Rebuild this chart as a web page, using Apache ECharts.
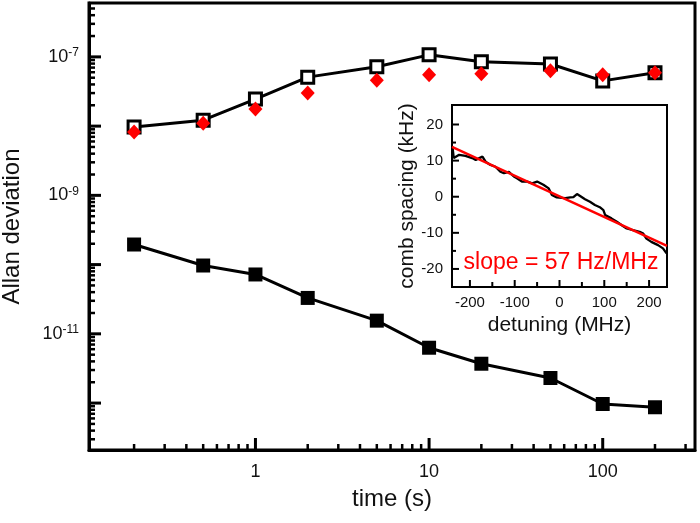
<!DOCTYPE html>
<html>
<head>
<meta charset="utf-8">
<script src="https://cdn.jsdelivr.net/npm/echarts@6/dist/echarts.min.js"></script>
<style>html,body{margin:0;padding:0;background:#fff;}#chart{width:700px;height:523px;}</style>
</head>
<body>
<div id="chart"></div>
<script>
// ---- main chart data ----
const timeS = [0.2, 0.5, 1, 2, 5, 10, 20, 50, 100, 200];
const openSquare = [9.7e-9, 1.22e-8, 2.46e-8, 5.1e-8, 7.2e-8, 1.07e-7, 8.5e-8, 7.9e-8, 4.5e-8, 5.9e-8];
const redDiamond = [8.2e-9, 1.1e-8, 1.76e-8, 3.0e-8, 4.6e-8, 5.5e-8, 5.7e-8, 6.3e-8, 5.5e-8, 5.9e-8];
const filledSquare = [1.95e-10, 9.7e-11, 7.2e-11, 3.3e-11, 1.55e-11, 6.3e-12, 3.7e-12, 2.3e-12, 9.7e-13, 8.7e-13];

// ---- inset data ----
const detuning = [-239, -236, -224, -210, -195, -187, -172, -165, -154, -143, -132, -124, -113, -102, -95, -84, -72, -61, -50, -36, -24, -17, -6, 5, 13, 24, 31, 39, 46, 57, 68, 79, 90, 98, 102, 116, 128, 139, 150, 164, 179, 187, 194, 205, 220, 231, 239];
const combSpacing = [13.9, 10.7, 11.6, 11.3, 10.7, 10.2, 11.1, 9.7, 8.8, 8.3, 6.9, 6.5, 6.9, 5.6, 5.1, 4.2, 4.2, 3.7, 4.2, 3.3, 2.3, 0.5, -0.2, -0.3, -0.4, -0.2, -0.1, 0.75, 0.2, -0.7, -1.4, -2.3, -2.9, -3.7, -5.1, -6.0, -6.9, -7.9, -8.8, -9.25, -9.7, -10.2, -11.6, -12.5, -13.4, -14.3, -15.7];
const fitDetuning = [-240, 240];
const fitSpacing = [13.78, -13.58];

// ---- axis ranges & ticks ----
const xRange = [0.11, 340];
const yRange = [2.1e-13, 6e-7];
const insetXRange = [-240, 240];
const insetYRange = [-25, 25.4];
const xMajorTicks = [1, 10, 100];
const xMinorTicks = [0.2,0.3,0.4,0.5,0.6,0.7,0.8,0.9, 2,3,4,5,6,7,8,9, 20,30,40,50,60,70,80,90, 200,300];
const yMajorTicks = [1e-12, 1e-11, 1e-10, 1e-9, 1e-8, 1e-7];
const yMinorTicks = [3e-13,4e-13,5e-13,6e-13,7e-13,8e-13,9e-13,
  2e-12,3e-12,4e-12,5e-12,6e-12,7e-12,8e-12,9e-12,
  2e-11,3e-11,4e-11,5e-11,6e-11,7e-11,8e-11,9e-11,
  2e-10,3e-10,4e-10,5e-10,6e-10,7e-10,8e-10,9e-10,
  2e-9,3e-9,4e-9,5e-9,6e-9,7e-9,8e-9,9e-9,
  2e-8,3e-8,4e-8,5e-8,6e-8,7e-8,8e-8,9e-8,
  2e-7,3e-7,4e-7,5e-7];
const insetXMajorTicks = [-200, -100, 0, 100, 200];
const insetXMinorTicks = [-150, -50, 50, 150];
const insetYMajorTicks = [-20, -10, 0, 10, 20];
const insetYMinorTicks = [-15, -5, 5, 15];

const FONT = 'Liberation Sans, Arial, sans-serif';

function zip(a, b) { return a.map((v, i) => [v, b[i]]); }

function tickSeries(xi, yi, values, isX, anchor, len, width) {
  return {
    type: 'custom', xAxisIndex: xi, yAxisIndex: yi, silent: true, clip: false, z: 5,
    data: values.map(v => isX ? [v, anchor] : [anchor, v]),
    renderItem: function (params, api) {
      const p = api.coord([api.value(0), api.value(1)]);
      const shape = isX ? { x1: p[0], y1: p[1], x2: p[0], y2: p[1] - len }
                        : { x1: p[0], y1: p[1], x2: p[0] + len, y2: p[1] };
      return { type: 'line', shape: shape, style: { stroke: '#000', lineWidth: width } };
    }
  };
}

const chart = echarts.init(document.getElementById('chart'), null, { renderer: 'canvas' });

const option = {
  animation: false,
  backgroundColor: '#fff',
  textStyle: { fontFamily: FONT },
  grid: [
    { left: 89, top: 3, right: 5, bottom: 73, show: true, borderColor: '#000', borderWidth: 3, backgroundColor: 'transparent', containLabel: false, outerBoundsMode: 'none' },
    { left: 452, top: 105, width: 215, height: 182, show: true, borderColor: '#000', borderWidth: 2, backgroundColor: '#fff', containLabel: false, outerBoundsMode: 'none' }
  ],
  xAxis: [
    {
      type: 'log', gridIndex: 0, min: xRange[0], max: xRange[1], logBase: 10,
      name: 'time (s)', nameLocation: 'middle', nameGap: 37,
      nameTextStyle: { fontSize: 24, color: '#111', fontFamily: FONT },
      axisLine: { show: true, onZero: false, lineStyle: { color: '#000', width: 3 } },
      axisTick: { show: false }, splitLine: { show: false },
      axisLabel: {
        fontSize: 18, color: '#111', margin: 13, fontFamily: FONT,
        showMinLabel: false, showMaxLabel: false,
        formatter: function (v) {
          const e = Math.log10(v);
          if (Math.abs(e - Math.round(e)) > 1e-6) return '';
          return String(Math.round(v));
        }
      }
    },
    {
      type: 'value', gridIndex: 1, min: insetXRange[0], max: insetXRange[1], splitNumber: 5,
      name: 'detuning (MHz)', nameLocation: 'middle', nameGap: 28,
      nameTextStyle: { fontSize: 21, color: '#111', fontFamily: FONT },
      axisLine: { show: true, onZero: false, lineStyle: { color: '#000', width: 2 } },
      axisTick: { show: false }, splitLine: { show: false },
      axisLabel: {
        fontSize: 15, color: '#111', margin: 8, fontFamily: FONT,
        showMinLabel: false, showMaxLabel: false,
        formatter: function (v) { return (v % 100 === 0) ? String(v) : ''; }
      }
    }
  ],
  yAxis: [
    {
      type: 'log', gridIndex: 0, min: yRange[0], max: yRange[1], logBase: 10,
      name: 'Allan deviation', nameLocation: 'middle', nameGap: 65,
      nameTextStyle: { fontSize: 24, color: '#111', fontFamily: FONT },
      axisLine: { show: true, onZero: false, lineStyle: { color: '#000', width: 3 } },
      axisTick: { show: false }, splitLine: { show: false },
      axisLabel: {
        fontSize: 18, color: '#111', margin: 10, fontFamily: FONT,
        showMinLabel: false, showMaxLabel: false,
        formatter: function (v) {
          const l = Math.log10(v);
          const e = Math.round(l);
          if (Math.abs(l - e) > 1e-6) return '';
          if (Math.abs(e % 2) !== 1) return '';
          return '{b|10}{s|' + e + '}';
        },
        rich: {
          b: { fontSize: 18, lineHeight: 20, color: '#111', fontFamily: FONT },
          s: { fontSize: 12, lineHeight: 10, verticalAlign: 'top', color: '#111', fontFamily: FONT }
        }
      }
    },
    {
      type: 'value', gridIndex: 1, min: insetYRange[0], max: insetYRange[1], splitNumber: 5,
      name: 'comb spacing (kHz)', nameLocation: 'middle', nameGap: 34,
      nameTextStyle: { fontSize: 21, color: '#111', fontFamily: FONT },
      axisLine: { show: true, onZero: false, lineStyle: { color: '#000', width: 2 } },
      axisTick: { show: false }, splitLine: { show: false },
      axisLabel: {
        fontSize: 15, color: '#111', margin: 9, fontFamily: FONT,
        showMinLabel: false, showMaxLabel: false,
        formatter: function (v) { return (v % 10 === 0) ? String(v) : ''; }
      }
    }
  ],
  series: [
    tickSeries(0, 0, xMajorTicks, true, yRange[0], 12, 3),
    tickSeries(0, 0, xMinorTicks, true, yRange[0], 6, 2.5),
    tickSeries(0, 0, yMajorTicks, false, xRange[0], 12, 3),
    tickSeries(0, 0, yMinorTicks, false, xRange[0], 6, 2.5),
    tickSeries(1, 1, insetXMajorTicks, true, insetYRange[0], 7, 2),
    tickSeries(1, 1, insetXMinorTicks, true, insetYRange[0], 5, 2),
    tickSeries(1, 1, insetYMajorTicks, false, insetXRange[0], 7, 2),
    tickSeries(1, 1, insetYMinorTicks, false, insetXRange[0], 4, 2),
    {
      type: 'line', xAxisIndex: 0, yAxisIndex: 0, data: zip(timeS, openSquare),
      symbol: 'rect', symbolSize: 12, z: 3,
      lineStyle: { color: '#000', width: 3 },
      itemStyle: { color: '#fff', borderColor: '#000', borderWidth: 3 }
    },
    {
      type: 'scatter', xAxisIndex: 0, yAxisIndex: 0, data: zip(timeS, redDiamond),
      symbol: 'diamond', symbolSize: [14, 15], z: 4,
      itemStyle: { color: '#ff0000', opacity: 1 }
    },
    {
      type: 'line', xAxisIndex: 0, yAxisIndex: 0, data: zip(timeS, filledSquare),
      symbol: 'rect', symbolSize: 14, z: 3,
      lineStyle: { color: '#000', width: 3 },
      itemStyle: { color: '#000' }
    },
    {
      type: 'line', xAxisIndex: 1, yAxisIndex: 1, data: zip(detuning, combSpacing),
      showSymbol: false, symbol: 'none', z: 6,
      lineStyle: { color: '#000', width: 2.3 }
    },
    {
      type: 'line', xAxisIndex: 1, yAxisIndex: 1, data: zip(fitDetuning, fitSpacing),
      showSymbol: false, symbol: 'none', z: 7,
      lineStyle: { color: '#ff0000', width: 2.5 }
    }
  ],
  graphic: [
    {
      type: 'text', x: 561, y: 263, z: 20,
      style: { text: 'slope = 57 Hz/MHz', fontSize: 23, fill: '#ff0000', fontFamily: FONT, align: 'center', verticalAlign: 'middle' }
    }
  ]
};
chart.setOption(option);
</script>
</body>
</html>
